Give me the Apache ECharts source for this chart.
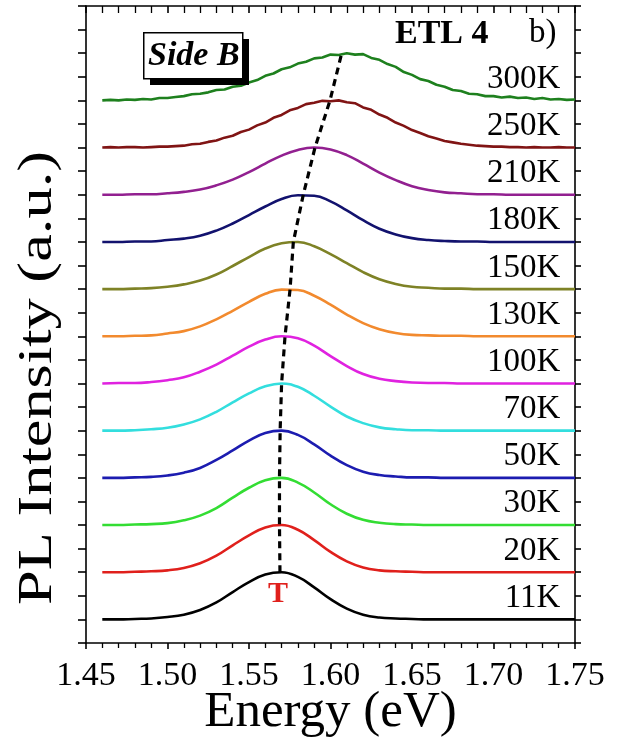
<!DOCTYPE html>
<html>
<head>
<meta charset="utf-8">
<script src="https://cdn.jsdelivr.net/npm/echarts@6/dist/echarts.min.js"></script>
<style>
  html, body { margin: 0; padding: 0; background: #ffffff; }
  #chart { width: 619px; height: 738px; }
</style>
</head>
<body>
<div id="chart"></div>
<script>
// Photon energy grids (eV)
const energyCoarse = [1.46, 1.47, 1.48, 1.49, 1.50, 1.51, 1.52, 1.53, 1.54, 1.55,
                      1.56, 1.57, 1.58, 1.59, 1.60, 1.61, 1.62, 1.63, 1.64, 1.65,
                      1.66, 1.67, 1.68, 1.69, 1.70, 1.71, 1.72, 1.73, 1.74, 1.75];
const energyFine = [1.460, 1.465, 1.470, 1.475, 1.480, 1.485, 1.490, 1.495, 1.500, 1.505,
                    1.510, 1.515, 1.520, 1.525, 1.530, 1.535, 1.540, 1.545, 1.550, 1.555,
                    1.560, 1.565, 1.570, 1.575, 1.580, 1.585, 1.590, 1.595, 1.600, 1.605,
                    1.610, 1.615, 1.620, 1.625, 1.630, 1.635, 1.640, 1.645, 1.650, 1.655,
                    1.660, 1.665, 1.670, 1.675, 1.680, 1.685, 1.690, 1.695, 1.700, 1.705,
                    1.710, 1.715, 1.720, 1.725, 1.730, 1.735, 1.740, 1.745, 1.750];

// Normalised PL spectra (each stacked one unit above the previous)
const pl11K  = [0.00, 0.00, 0.01, 0.02, 0.05, 0.10, 0.20, 0.36, 0.58, 0.79,
                0.95, 1.00, 0.90, 0.68, 0.43, 0.23, 0.10, 0.04, 0.02, 0.01,
                0.00, 0.00, 0.00, 0.00, 0.00, 0.00, 0.00, 0.00, 0.00, 0.00];
const pl20K  = [0.00, 0.00, 0.01, 0.02, 0.04, 0.09, 0.19, 0.35, 0.57, 0.78,
                0.95, 1.00, 0.90, 0.68, 0.43, 0.23, 0.10, 0.04, 0.02, 0.01,
                0.00, 0.00, 0.00, 0.00, 0.00, 0.00, 0.00, 0.00, 0.00, 0.00];
const pl30K  = [0.00, 0.00, 0.01, 0.02, 0.04, 0.10, 0.20, 0.36, 0.58, 0.79,
                0.95, 1.00, 0.90, 0.69, 0.44, 0.24, 0.11, 0.05, 0.02, 0.01,
                0.00, 0.00, 0.00, 0.00, 0.00, 0.00, 0.00, 0.00, 0.00, 0.00];
const pl50K  = [0.00, 0.00, 0.01, 0.02, 0.05, 0.11, 0.21, 0.38, 0.58, 0.79,
                0.95, 1.00, 0.91, 0.71, 0.47, 0.27, 0.13, 0.06, 0.03, 0.01,
                0.01, 0.00, 0.00, 0.00, 0.00, 0.00, 0.00, 0.00, 0.00, 0.00];
const pl70K  = [0.00, 0.00, 0.01, 0.03, 0.06, 0.13, 0.24, 0.40, 0.60, 0.79,
                0.94, 1.00, 0.93, 0.74, 0.51, 0.30, 0.16, 0.07, 0.03, 0.01,
                0.01, 0.00, 0.00, 0.00, 0.00, 0.00, 0.00, 0.00, 0.00, 0.00];
const pl100K = [0.00, 0.01, 0.01, 0.03, 0.07, 0.13, 0.25, 0.40, 0.59, 0.78,
                0.93, 1.00, 0.96, 0.80, 0.58, 0.37, 0.20, 0.10, 0.05, 0.02,
                0.01, 0.01, 0.00, 0.00, 0.00, 0.00, 0.00, 0.00, 0.00, 0.00];
const pl130K = [0.00, 0.00, 0.01, 0.02, 0.06, 0.11, 0.21, 0.36, 0.54, 0.73,
                0.90, 0.99, 0.98, 0.86, 0.67, 0.46, 0.28, 0.15, 0.07, 0.03,
                0.02, 0.01, 0.01, 0.00, 0.00, 0.00, 0.00, 0.00, 0.00, 0.00];
const pl150K = [0.00, 0.00, 0.01, 0.02, 0.05, 0.10, 0.18, 0.31, 0.49, 0.68,
                0.86, 0.97, 1.00, 0.91, 0.74, 0.55, 0.36, 0.21, 0.11, 0.05,
                0.03, 0.01, 0.01, 0.00, 0.00, 0.00, 0.00, 0.00, 0.00, 0.00];
const pl180K = [0.00, 0.00, 0.01, 0.01, 0.04, 0.07, 0.13, 0.24, 0.39, 0.57,
                0.75, 0.91, 0.99, 0.98, 0.86, 0.67, 0.46, 0.28, 0.16, 0.08,
                0.04, 0.02, 0.01, 0.01, 0.00, 0.00, 0.00, 0.00, 0.00, 0.00];
const pl210K = [0.00, 0.00, 0.01, 0.01, 0.03, 0.06, 0.11, 0.20, 0.32, 0.48,
                0.66, 0.83, 0.95, 1.00, 0.96, 0.84, 0.66, 0.47, 0.31, 0.18,
                0.10, 0.05, 0.03, 0.01, 0.01, 0.00, 0.00, 0.00, 0.00, 0.00];
// Noisier high-temperature spectra, finer sampling
const pl250K = [0.00, 0.01, 0.00, 0.01, 0.01, 0.00, 0.01, 0.02, 0.02, 0.03,
                0.04, 0.07, 0.08, 0.12, 0.15, 0.21, 0.25, 0.33, 0.38, 0.47,
                0.53, 0.63, 0.69, 0.79, 0.84, 0.92, 0.95, 0.99, 0.98, 1.00,
                0.96, 0.94, 0.85, 0.80, 0.70, 0.63, 0.53, 0.46, 0.37, 0.31,
                0.24, 0.19, 0.14, 0.11, 0.08, 0.06, 0.04, 0.03, 0.02, 0.02,
                0.01, 0.01, 0.00, 0.01, 0.00, 0.00, 0.01, 0.00, 0.00];
const pl300K = [0.00, 0.01, 0.00, 0.02, 0.01, 0.03, 0.02, 0.05, 0.05, 0.07,
                0.09, 0.13, 0.14, 0.17, 0.22, 0.23, 0.29, 0.31, 0.38, 0.43,
                0.52, 0.57, 0.66, 0.70, 0.78, 0.82, 0.89, 0.91, 0.97, 0.96,
                1.00, 0.97, 0.98, 0.90, 0.86, 0.77, 0.71, 0.60, 0.54, 0.45,
                0.41, 0.33, 0.29, 0.22, 0.20, 0.14, 0.13, 0.09, 0.09, 0.06,
                0.08, 0.05, 0.06, 0.03, 0.05, 0.02, 0.03, 0.01, 0.02];

const temperatures = ['11K', '20K', '30K', '50K', '70K', '100K', '130K', '150K', '180K', '210K', '250K', '300K'];
const spectra = [pl11K, pl20K, pl30K, pl50K, pl70K, pl100K, pl130K, pl150K, pl180K, pl210K, pl250K, pl300K];
const stackOffsets = [0, 1, 2, 3, 4, 5, 6, 7, 8, 9, 10, 11];
const lineColors = ['#000000', '#e0201c', '#33dd33', '#1c1cb0', '#33dede', '#e022e0',
                    '#f28a2e', '#7e8226', '#12126e', '#922090', '#801414', '#1e801e'];

// Peak positions followed by the dashed guide
const peakEnergy = [1.5690, 1.5687, 1.5687, 1.5691, 1.5700, 1.5721, 1.5752, 1.5772, 1.5833, 1.5905, 1.5997, 1.6069];
const peakIntensity = [1.00, 1.00, 1.00, 1.00, 1.00, 1.00, 1.00, 1.00, 1.00, 1.00, 1.00, 1.00];

const xTickLabels = ['1.45', '1.50', '1.55', '1.60', '1.65', '1.70', '1.75'];

const serif = '"Liberation Serif", "Times New Roman", serif';

const spectrumSeries = spectra.map((vals, k) => {
  const grid = vals.length === energyFine.length ? energyFine : energyCoarse;
  return {
    name: temperatures[k],
    type: 'line',
    xAxisIndex: 0,
    yAxisIndex: 0,
    showSymbol: false,
    smooth: grid === energyCoarse ? 0.45 : false,
    lineStyle: { color: lineColors[k], width: 2.6 },
    data: grid.map((e, i) => [e, stackOffsets[k] + vals[i]]),
    z: 2,
    silent: true
  };
});

const trendSeries = {
  name: 'peak',
  type: 'line',
  showSymbol: false,
  lineStyle: { color: '#000000', width: 3.2, type: [7, 5] },
  data: peakEnergy.map((e, k) => [e, stackOffsets[k] + peakIntensity[k]]),
  z: 4,
  silent: true
};

const labelSeries = {
  name: 'temperature',
  type: 'scatter',
  symbolSize: 0,
  itemStyle: { opacity: 1 },
  data: temperatures.map((t, k) => [1.741, stackOffsets[k] + 0.45, t]),
  label: {
    show: true,
    position: 'left',
    distance: 0,
    formatter: p => p.value[2],
    fontFamily: serif,
    fontSize: 33,
    color: '#000000'
  },
  z: 5,
  silent: true
};

const chart = echarts.init(document.getElementById('chart'), null, { renderer: 'canvas' });

const axisLineStyle = { color: '#000000', width: 1.6 };

chart.setOption({
  animation: false,
  backgroundColor: '#ffffff',
  grid: { left: 86, right: 44, top: 6, bottom: 95, containLabel: false, outerBoundsMode: 'none' },
  xAxis: [
    {
      type: 'value', position: 'bottom', min: 1.45, max: 1.75, interval: 0.05,
      axisLine: { show: true, onZero: false, lineStyle: axisLineStyle },
      axisTick: { show: true, inside: false, length: 6, lineStyle: axisLineStyle },
      minorTick: { show: true, splitNumber: 5, length: 5, lineStyle: { color: '#000', width: 1.3 } },
      splitLine: { show: false },
      axisLabel: {
        show: true, margin: 16, fontFamily: serif, fontSize: 34, color: '#000000',
        formatter: v => xTickLabels[Math.round((v - 1.45) / 0.05)]
      },
      name: 'Energy (eV)', nameLocation: 'middle', nameGap: 44, nameMoveOverlap: false,
      nameTextStyle: { fontFamily: serif, fontSize: 51, color: '#000000' }
    },
    {
      type: 'value', position: 'top', min: 1.45, max: 1.75, interval: 0.05,
      axisLine: { show: true, onZero: false, lineStyle: axisLineStyle },
      axisTick: { show: true, inside: true, length: 7, lineStyle: axisLineStyle },
      minorTick: { show: true, splitNumber: 5, length: 7, lineStyle: { color: '#000', width: 1.3 } },
      splitLine: { show: false },
      axisLabel: { show: false }
    }
  ],
  yAxis: [
    {
      type: 'value', position: 'left', min: -0.5, max: 13, interval: 0.5,
      axisLine: { show: true, onZero: false, lineStyle: axisLineStyle },
      axisTick: { show: true, inside: false, length: 8, lineStyle: axisLineStyle },
      splitLine: { show: false },
      axisLabel: { show: false }
    },
    {
      type: 'value', position: 'right', min: -0.5, max: 13, interval: 0.5,
      axisLine: { show: true, onZero: false, lineStyle: axisLineStyle },
      axisTick: { show: true, inside: false, length: 6, lineStyle: axisLineStyle },
      splitLine: { show: false },
      axisLabel: { show: false }
    }
  ],
  series: [...spectrumSeries, trendSeries, labelSeries],
  graphic: [
    // y-axis title, set below centre and stretched along its baseline
    { type: 'text', x: 38, y: 378, rotation: Math.PI / 2, scaleX: 1.3, z: 12,
      style: { text: 'PL Intensity (a.u.)', font: '48px ' + serif, fill: '#000000',
               align: 'center', verticalAlign: 'middle' } },
    { type: 'rect', left: 150, top: 39, shape: { width: 99, height: 46 }, style: { fill: '#000000' }, z: 10 },
    { type: 'rect', left: 143, top: 32, shape: { width: 99, height: 46 },
      style: { fill: '#ffffff', stroke: '#000000', lineWidth: 1.5 }, z: 11 },
    { type: 'text', left: 148, top: 39, z: 12,
      style: { text: 'Side B', font: 'italic bold 34px ' + serif, fill: '#000000' } },
    { type: 'text', left: 395, top: 17, z: 12,
      style: { text: 'ETL 4', font: 'bold 34px ' + serif, fill: '#000000' } },
    { type: 'text', left: 529, top: 17, z: 12,
      style: { text: 'b)', font: '33px ' + serif, fill: '#000000' } },
    { type: 'text', x: 278, y: 594, z: 12,
      style: { text: 'T', font: 'bold 30px ' + serif, fill: '#e0201c', align: 'center', verticalAlign: 'middle' } }
  ]
});
</script>
</body>
</html>
